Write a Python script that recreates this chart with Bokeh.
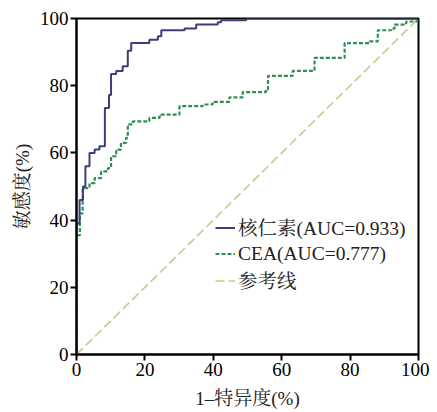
from bokeh.plotting import figure
from bokeh.models import Range1d, Legend, LegendItem, FixedTicker
from bokeh.embed import file_html
from bokeh.resources import INLINE

# ROC vertices (x = 1-specificity %, y = sensitivity %)
nuc_x = [0, 0, 0.9, 0.9, 1.9, 1.9, 2.6, 2.6, 3.8, 3.8, 5.3, 5.3, 6.7, 6.7, 8.3, 8.3,
         9.5, 9.5, 10.1, 10.1, 11.6, 11.6, 13.5, 13.5, 15.0, 15.0, 16.0, 16.0, 21.3, 21.3,
         23.8, 23.8, 24.8, 24.8, 31.6, 31.6, 35.0, 35.0, 41.3, 41.3, 42.3, 42.3, 49.6, 49.6, 100]
nuc_y = [0, 39, 39, 46, 46, 50, 50, 56, 56, 60, 60, 61, 61, 62, 62, 73.4,
         73.4, 77.2, 77.2, 83.5, 83.5, 84.4, 84.4, 85.8, 85.8, 90.4, 90.4, 92.7, 92.7, 93.7,
         93.7, 94.7, 94.7, 96.5, 96.5, 97.0, 97.0, 98.2, 98.2, 98.9, 98.9, 99.5, 99.5, 100, 100]

cea_x = [0, 0, 1.0, 1.0, 1.8, 1.8, 3.8, 3.8, 5.3, 5.3, 7.2, 7.2, 9.2, 9.2, 10.1, 10.1,
         11.6, 11.6, 13.0, 13.0, 14.5, 14.5, 15.0, 15.0, 16.5, 16.5, 21.3, 21.3, 24.3, 24.3,
         30.1, 30.1, 36.9, 36.9, 39.8, 39.8, 44.7, 44.7, 48.6, 48.6, 55.4, 55.4, 56.0, 56.0,
         63.2, 63.2, 69.6, 69.6, 78.4, 78.4, 85.7, 85.7, 88.1, 88.1, 92.0, 92.0, 93.0, 93.0,
         96.4, 96.4, 99.7, 99.7, 100]
cea_y = [0, 35.5, 35.5, 42, 42, 49.5, 49.5, 51, 51, 52.5, 52.5, 54.5, 54.5, 55.5, 55.5, 59,
         59, 61, 61, 63, 63, 64.5, 64.5, 68.5, 68.5, 69.4, 69.4, 70.4, 70.4, 71.4,
         71.4, 73.9, 73.9, 74.4, 74.4, 75.2, 75.2, 76.5, 76.5, 78.1, 78.1, 78.9, 78.9, 82.9,
         82.9, 84.4, 84.4, 88.3, 88.3, 92.7, 92.7, 93.2, 93.2, 96.5, 96.5, 97.0, 97.0, 98.2,
         98.2, 99.1, 99.1, 100, 100]

ref_x = [0, 100]
ref_y = [0, 100]

ticks = [0, 20, 40, 60, 80, 100]
labels = ["核仁素(AUC=0.933)", "CEA(AUC=0.777)", "参考线"]
x_title = "1–特异度(%)"
y_title = "敏感度(%)"

FONT = "'Liberation Serif', 'Noto Serif CJK SC', 'Noto Sans CJK SC', serif"

p = figure(width=429, height=410, output_backend="svg", toolbar_location=None,
           x_range=Range1d(0, 100), y_range=Range1d(0, 100),
           min_border_left=76, min_border_top=18, min_border_right=11, min_border_bottom=56)
p.frame_width = 342
p.frame_height = 336

p.grid.visible = False
p.outline_line_color = "black"
p.outline_line_width = 2
p.background_fill_color = "white"

for ax in (p.xaxis[0], p.yaxis[0]):
    ax.ticker = FixedTicker(ticks=ticks)
    ax.axis_line_width = 2
    ax.axis_line_color = "black"
    ax.major_tick_line_width = 2
    ax.major_tick_line_color = "black"
    ax.major_tick_out = 6
    ax.major_tick_in = 0
    ax.minor_tick_line_color = None
    ax.major_label_text_font = FONT
    ax.major_label_text_font_size = "19px"
    ax.major_label_text_color = "black"
    ax.axis_label_text_font = FONT
    ax.axis_label_text_font_size = "19px"
    ax.axis_label_text_font_style = "normal"
    ax.axis_label_text_color = "#222222"
    ax.major_label_standoff = 2

p.xaxis.axis_label = x_title
p.yaxis.axis_label = y_title
p.xaxis.axis_label_standoff = 9
p.yaxis.axis_label_standoff = 4

r_ref = p.line(ref_x, ref_y, line_color="#c9c98f", line_width=1.6, line_dash="9 4")
r_cea = p.line(cea_x, cea_y, line_color="#2f8f55", line_width=2.2, line_dash="4 2")
r_nuc = p.line(nuc_x, nuc_y, line_color="#3d3d7a", line_width=2)

legend = Legend(items=[LegendItem(label=labels[0], renderers=[r_nuc]),
                       LegendItem(label=labels[1], renderers=[r_cea]),
                       LegendItem(label=labels[2], renderers=[r_ref])],
                location=(139, 60))
legend.border_line_alpha = 0
legend.background_fill_alpha = 0
legend.padding = 0
legend.margin = 0
legend.spacing = 0
legend.glyph_width = 20
legend.glyph_height = 25
legend.label_height = 25
legend.label_standoff = 3
legend.label_text_font = FONT
legend.label_text_font_size = "19.5px"
legend.label_text_color = "#222222"
p.add_layout(legend, "center")

open("out.html", "w").write(file_html(p, INLINE))
